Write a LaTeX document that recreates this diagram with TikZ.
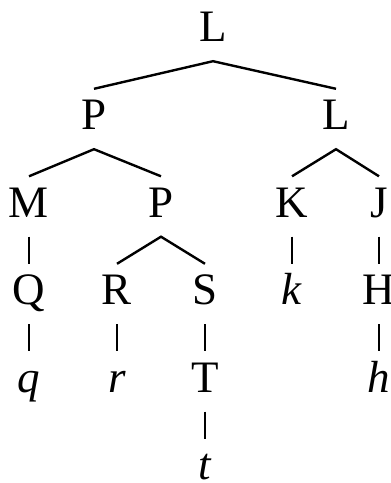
\documentclass[tikz,border=0pt]{standalone}
\usepackage{fontspec}
\setmainfont{Liberation Serif}
\begin{document}
\begin{tikzpicture}[x=1pt,y=1pt,
  lbl/.style={anchor=base, inner xsep=0pt, inner ysep=11pt, text height=30pt, text depth=8pt, font=\fontsize{45}{54}\selectfont},
  br/.style={line width=2.4pt}]

\useasboundingbox (0,0) rectangle (391,483);

\node [lbl] (v1) at (213,441) {L};
\node [lbl] (v2) at (94,353) {P};
\node [lbl] (v3) at (336,353) {L};
\node [lbl] (v4) at (29,265.5) {M};
\node [lbl] (v5) at (161,265.5) {P};
\node [lbl] (v6) at (292,265.5) {K};
\node [lbl] (v7) at (379,265.5) {J};
\node [lbl] (v8) at (29,178) {Q};
\node [lbl] (v9) at (117,178) {R};
\node [lbl] (v10) at (205,178) {S};
\node [lbl] (v11) at (292,178) {\textit{k}};
\node [lbl] (v12) at (379,178) {H};
\node [lbl] (v13) at (29,90.5) {\textit{q}};
\node [lbl] (v14) at (117,90.5) {\textit{r}};
\node [lbl] (v15) at (205,90.5) {T};
\node [lbl] (v16) at (379,90.5) {\textit{h}};
\node [lbl] (v17) at (205,3) {\textit{t}};

\draw [br] (v2.north) -- (v1.south) -- (v3.north);
\draw [br] (v4.north) -- (v2.south) -- (v5.north);
\draw [br] (v6.north) -- (v3.south) -- (v7.north);
\draw [br] (v9.north) -- (v5.south) -- (v10.north);
\draw [br] (v4.south) -- (v8.north);
\draw [br] (v6.south) -- (v11.north);
\draw [br] (v7.south) -- (v12.north);
\draw [br] (v8.south) -- (v13.north);
\draw [br] (v9.south) -- (v14.north);
\draw [br] (v10.south) -- (v15.north);
\draw [br] (v12.south) -- (v16.north);
\draw [br] (v15.south) -- (v17.north);
\end{tikzpicture}
\end{document}
